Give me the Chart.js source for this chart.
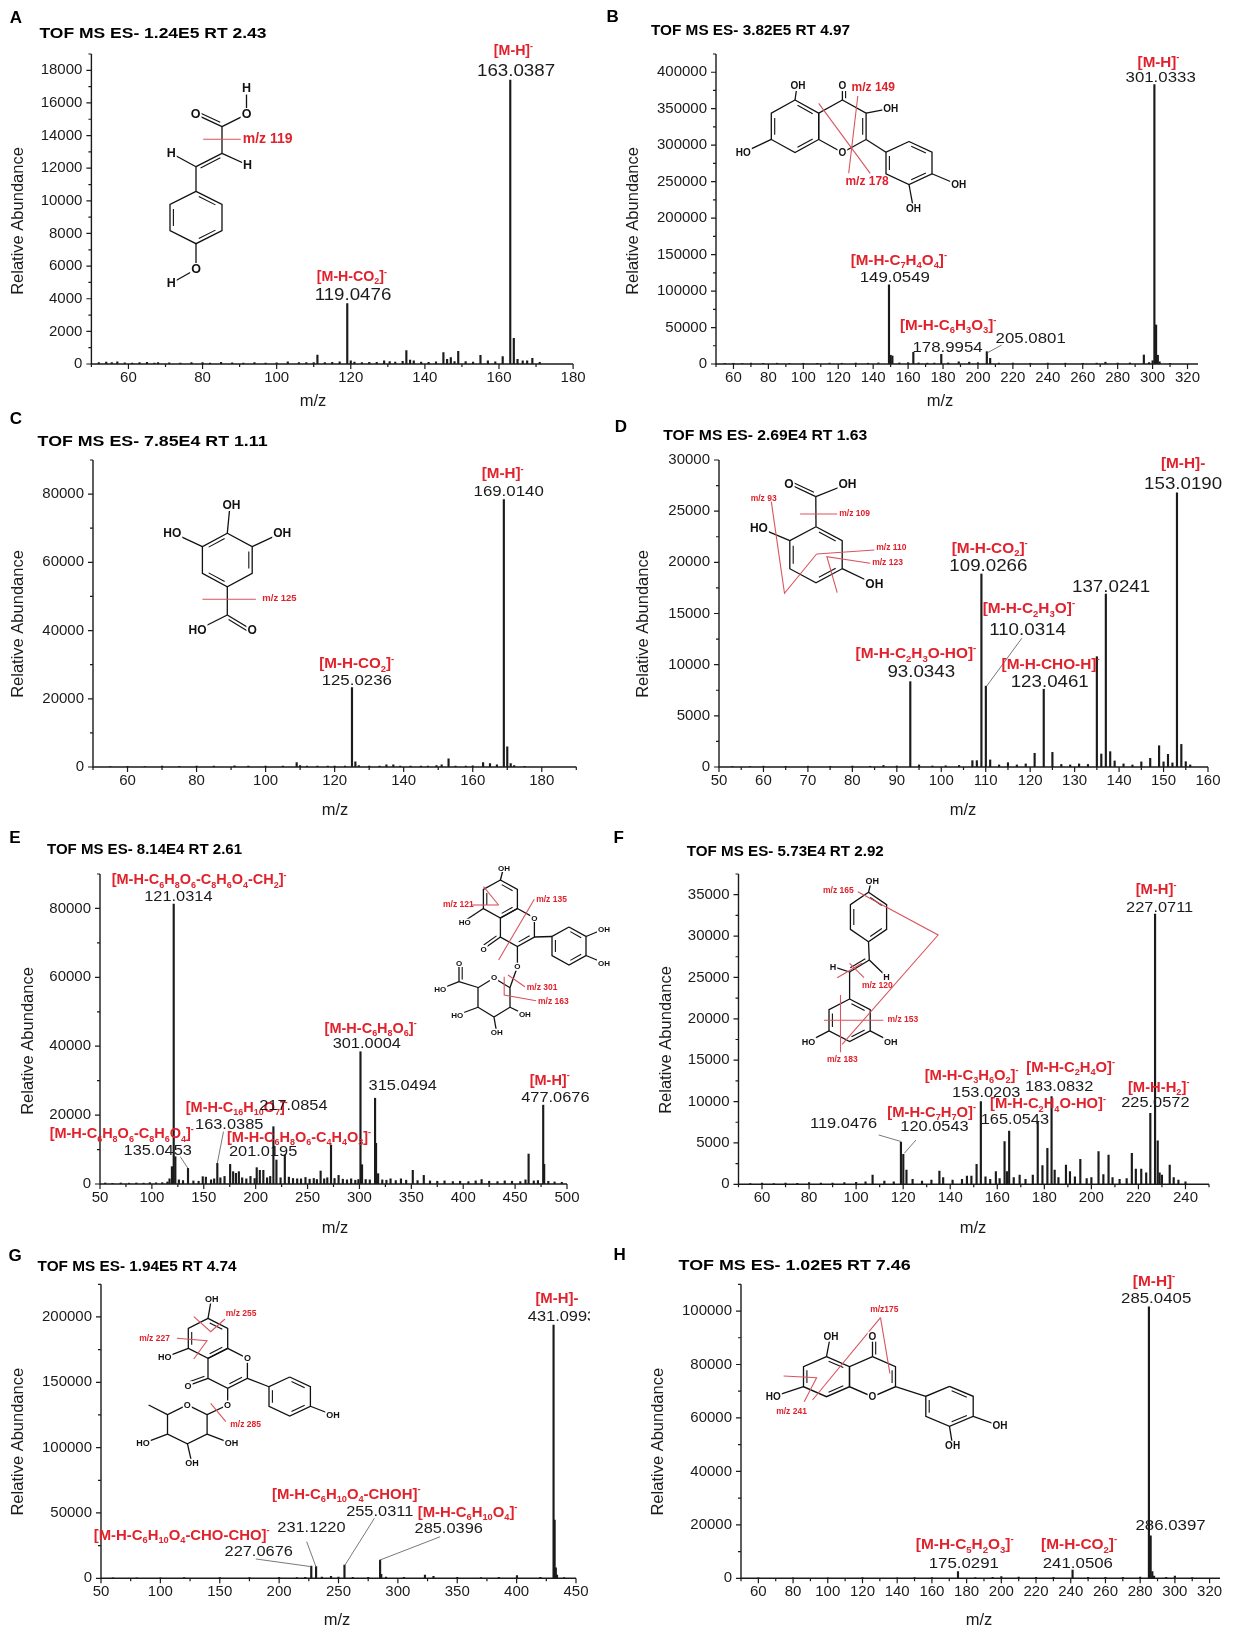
<!DOCTYPE html>
<html lang="en">
<head>
<meta charset="UTF-8">
<title>TOF MS ES- spectra</title>
<script src="https://cdn.jsdelivr.net/npm/chart.js"></script>
<style>
  body { margin: 0; background: #fff; }
  #page { position: relative; width: 1236px; height: 1637px; overflow: hidden; background: #fff; }
</style>
</head>
<body>
<div id="page"></div>
<script>
// ---- spectrum data: m/z and abundance ----
const aMz  = [52, 54, 55.5, 57, 59, 61, 63, 65, 67, 68,
              71, 74, 77, 80, 82, 85, 88, 91, 94, 97,
              100, 103, 106, 108, 110, 111, 113, 115, 117, 119.05,
              120, 121, 123, 125, 127, 129, 130.5, 132, 134, 135,
              136, 137, 139, 141, 143, 145, 146, 147, 148, 149,
              151, 153, 155, 157, 159, 161, 163.04, 164, 165, 166.4,
              167.6, 169, 171];
const aInt = [80, 120, 90, 130, 70, 60, 80, 110, 60, 90,
              70, 60, 80, 90, 60, 100, 70, 60, 80, 60,
              70, 140, 80, 90, 80, 550, 90, 110, 130, 3700,
              200, 120, 90, 110, 100, 200, 150, 120, 160, 820,
              240, 200, 120, 110, 140, 700, 280, 400, 150, 780,
              150, 120, 530, 200, 140, 450, 17400, 1580, 290, 200,
              200, 350, 100];

const bMz  = [55, 60, 65, 70, 77, 85, 92, 100, 108, 115,
              122, 130, 137, 143, 149.05, 150, 151, 155, 160, 163,
              166, 171, 175, 179, 183, 189, 195, 200, 205.08, 207,
              212, 220, 230, 240, 250, 260, 268, 273, 280, 287,
              295, 298, 300, 301.03, 302, 303, 304, 310];
const bInt = [800, 1000, 700, 1200, 900, 1100, 800, 1000, 900, 1200,
              1000, 1300, 1100, 1500, 108500, 12000, 11000, 1500, 1800, 16000,
              1500, 1200, 1300, 13300, 1500, 3000, 2500, 1800, 16900, 7800,
              1200, 1300, 1000, 1200, 1100, 1000, 1200, 2500, 1300, 1500,
              12300, 2000, 4500, 383000, 53500, 12000, 3000, 900];

const cMz  = [55, 60, 65, 70, 75, 80, 85, 91, 95, 100,
              105, 109, 110, 112, 115, 118, 120, 123, 125.02, 126,
              127, 130, 133, 135, 137, 139, 142, 145, 147, 149.5,
              151, 153, 155, 158, 160, 163, 165, 167, 169.01, 170,
              171, 172, 175];
const cInt = [150, 200, 150, 250, 200, 300, 250, 350, 250, 300,
              250, 1260, 400, 300, 250, 300, 250, 300, 23300, 1550,
              400, 300, 250, 600, 600, 300, 250, 300, 300, 400,
              600, 2430, 300, 300, 350, 1260, 1000, 600, 78400, 5900,
              1000, 400, 200];

const dMz  = [53, 57, 60, 65, 70, 75, 80, 84, 87, 90,
              93.03, 95, 98, 101, 104, 107, 108, 109.03, 110.03, 111,
              113, 115, 117, 119, 121, 123.05, 125, 127, 129, 131,
              133, 135, 136, 137.02, 138, 139, 141, 143, 145, 147,
              149, 150, 151, 152, 153.02, 154, 155, 156];
const dInt = [60, 50, 80, 60, 80, 60, 90, 70, 150, 100,
              8340, 200, 100, 120, 150, 620, 620, 18860, 7900, 690,
              200, 420, 200, 300, 1340, 7600, 1430, 250, 200, 300,
              250, 10780, 1270, 16900, 1500, 590, 300, 200, 500, 850,
              2080, 500, 1240, 400, 26800, 2210, 520, 200];

const eMz  = [55, 62, 70, 78, 85, 92, 98, 104, 110, 115,
              117, 119.3, 121.03, 122.6, 126, 130, 134.8, 140, 145, 149,
              152, 157, 160, 163.04, 166, 170, 175.4, 178.3, 181, 183.8,
              187, 191, 195, 199, 201.02, 204, 207.4, 211, 214, 217.09,
              220, 224, 228.1, 232, 236, 240, 243.7, 248, 252, 256,
              259, 262.6, 266, 269, 272.6, 276, 279.9, 284, 288, 292,
              296, 299, 301.0, 302.5, 306, 310, 315.05, 316, 318, 322,
              326, 330, 335, 340, 345, 351.4, 356, 362, 368, 375,
              382, 390, 397, 405, 412, 417.7, 425, 433, 440, 447,
              455, 460, 463, 468, 472, 477.07, 478, 482, 488, 495];
const eInt = [300, 200, 300, 250, 300, 250, 400, 350, 400, 600,
              1500, 5030, 81300, 7930, 1200, 1000, 4550, 900, 800, 2130,
              2000, 1200, 1500, 6000, 1800, 2200, 5700, 3580, 3100, 3580,
              1800, 1500, 2200, 1600, 4740, 3970, 3970, 1800, 2200, 16640,
              6970, 1800, 8420, 2000, 1600, 1500, 1500, 1900, 1400, 1600,
              1300, 3770, 1500, 1800, 11320, 1600, 2500, 1400, 1200, 1500,
              1100, 1300, 38400, 5600, 1300, 1200, 24900, 11800, 3000, 1200,
              1100, 1500, 1000, 1500, 1100, 3970, 1000, 2500, 900, 800,
              900, 700, 800, 700, 900, 1300, 800, 700, 900, 800,
              700, 1200, 8700, 900, 1000, 22900, 5700, 800, 600, 500];

const fMz  = [55, 60, 65, 70, 75, 80, 85, 90, 95, 100,
              104, 107, 112, 116, 119.05, 120.05, 121.4, 124, 128, 132,
              135.4, 137, 141, 145, 147.1, 149, 151.2, 153.02, 155, 157,
              159.4, 161, 163.1, 164.1, 165.05, 167, 169.5, 172, 175.1, 177.2,
              179.2, 181.3, 183.08, 184.4, 186, 189.2, 190.9, 193, 195.3, 198,
              200, 203.04, 205.1, 207.3, 209, 212, 215, 217.2, 218.9, 221.2,
              223.3, 225.06, 227.07, 228.2, 229, 230, 233.3, 235, 237, 240];
const fInt = [100, 150, 100, 150, 120, 200, 150, 150, 200, 250,
              300, 1120, 400, 300, 5080, 3630, 1730, 600, 400, 500,
              1610, 800, 500, 600, 1000, 1000, 2420, 10000, 900, 600,
              1530, 700, 5150, 1530, 6440, 800, 1120, 600, 1120, 7570,
              2250, 4350, 10600, 1730, 800, 2330, 1530, 900, 3020, 700,
              800, 3940, 1160, 3540, 800, 600, 700, 3750, 1850, 1850,
              1400, 8590, 32660, 5240, 1400, 1120, 2330, 800, 500, 300];

const gMz  = [60, 80, 100, 120, 150, 175, 200, 215, 222, 227.07,
              231.12, 236, 243.7, 250, 255.03, 262, 275, 285.04, 286, 290,
              305, 322.8, 330, 350, 370, 385, 400.3, 420, 431.1, 432,
              433, 434, 440];
const gInt = [300, 400, 300, 500, 500, 600, 800, 600, 700, 9400,
              8900, 900, 1500, 1000, 10200, 800, 700, 14000, 3000, 1000,
              700, 2500, 1500, 800, 600, 700, 2000, 800, 193700, 44600,
              8000, 2500, 500];

const hMz  = [60, 80, 100, 120, 140, 150, 160, 175.03, 185, 195,
              200, 210, 220, 230, 241.05, 250, 260, 270, 280, 285.04,
              286.04, 287, 288, 295, 300, 310];
const hInt = [150, 200, 150, 250, 200, 300, 250, 2500, 300, 350,
              600, 500, 400, 400, 3100, 400, 400, 350, 500, 101600,
              15900, 2500, 800, 400, 800, 300];

// ---- tick labels ----
const aXTicks = [60, 80, 100, 120, 140, 160, 180];
const aYTicks = [0, 2000, 4000, 6000, 8000, 10000, 12000, 14000, 16000, 18000];
const bXTicks = [60, 80, 100, 120, 140, 160, 180, 200, 220, 240, 260, 280, 300, 320];
const bYTicks = [0, 50000, 100000, 150000, 200000, 250000, 300000, 350000, 400000];
const cXTicks = [60, 80, 100, 120, 140, 160, 180];
const cYTicks = [0, 20000, 40000, 60000, 80000];
const dXTicks = [50, 60, 70, 80, 90, 100, 110, 120, 130, 140, 150, 160];
const dYTicks = [0, 5000, 10000, 15000, 20000, 25000, 30000];
const eXTicks = [50, 100, 150, 200, 250, 300, 350, 400, 450, 500];
const eYTicks = [0, 20000, 40000, 60000, 80000];
const fXTicks = [60, 80, 100, 120, 140, 160, 180, 200, 220, 240];
const fYTicks = [0, 5000, 10000, 15000, 20000, 25000, 30000, 35000];
const gXTicks = [50, 100, 150, 200, 250, 300, 350, 400, 450];
const gYTicks = [0, 50000, 100000, 150000, 200000];
const hXTicks = [60, 80, 100, 120, 140, 160, 180, 200, 220, 240, 260, 280, 300, 320];
const hYTicks = [0, 20000, 40000, 60000, 80000, 100000];

// ---- peak annotations (red ion formula + measured m/z), anchored in data units ----
const aNotes = [
  { red: '[M-H]^-', rx: 163.9, ry: 18940, num: '163.0387', nx: 164.6, ny: 17650 },
  { red: '[M-H-CO_2]^-', rx: 120.3, ry: 5090, num: '119.0476', nx: 120.6, ny: 3920 }
];
const bNotes = [
  { red: '[M-H]^-', rx: 303.4, ry: 407600, num: '301.0333', nx: 304.6, ny: 386000 },
  { red: '[M-H-C_7H_4O_4]^-', rx: 154.7, ry: 135700, num: '149.0549', nx: 152.4, ny: 112800 },
  { red: '[M-H-C_6H_3O_3]^-', rx: 183, ry: 46600, num: '178.9954', nx: 182.6, ny: 16900 },
  { num: '205.0801', nx: 230.2, ny: 28400, lead: [205.5, 15500, 213.5, 26000] }
];
const cNotes = [
  { red: '[M-H]^-', rx: 168.7, ry: 84600, num: '169.0140', nx: 170.4, ny: 79500 },
  { red: '[M-H-CO_2]^-', rx: 126.4, ry: 28900, num: '125.0236', nx: 126.4, ny: 24000 }
];
const dNotes = [
  { red: '[M-H]-', rx: 154.4, ry: 29190, num: '153.0190', nx: 154.4, ny: 27140 },
  { red: '[M-H-CO_2]^-', rx: 110.9, ry: 20940, num: '109.0266', nx: 110.6, ny: 19180 },
  { num: '137.0241', nx: 138.2, ny: 17130 },
  { red: '[M-H-C_2H_3O]^-', rx: 119.7, ry: 15020, num: '110.0314', nx: 119.4, ny: 12900, lead: [110.2, 7900, 118.1, 12570] },
  { red: '[M-H-C_2H_3O-HO]^-', rx: 94.3, ry: 10620, num: '93.0343', nx: 95.5, ny: 8760 },
  { red: '[M-H-CHO-H]^-', rx: 124.6, ry: 9550, num: '123.0461', nx: 124.4, ny: 7850 }
];
const eNotes = [
  { red: '[M-H-C_6H_8O_6-C_8H_6O_4-CH_2]^-', rx: 145.5, ry: 87000, num: '121.0314', nx: 125.5, ny: 82150 },
  { red: '[M-H-C_6H_8O_6]^-', rx: 310.8, ry: 43900, num: '301.0004', nx: 307.1, ny: 39400 },
  { num: '315.0494', nx: 341.7, ny: 27300 },
  { red: '[M-H]^-', rx: 483.3, ry: 28740, num: '477.0676', nx: 488.8, ny: 23700 },
  { red: '[M-H-C_16H_10O_7]^-', rx: 181.8, ry: 21000, num: '163.0385', nx: 174.5, ny: 15870, lead: [163, 6000, 169, 15200] },
  { num: '217.0854', nx: 236.3, ny: 21480 },
  { red: '[M-H-C_6H_8O_6-C_8H_6O_4]^-', rx: 70.9, ry: 13260, num: '135.0453', nx: 105.6, ny: 8420, lead: [134.7, 4560, 127.4, 7930] },
  { red: '[M-H-C_6H_8O_6-C_4H_4O_3]^-', rx: 241.8, ry: 12290, num: '201.0195', nx: 207.2, ny: 8220 }
];
const fNotes = [
  { red: '[M-H]^-', rx: 227.5, ry: 35050, num: '227.0711', nx: 229, ny: 32940 },
  { red: '[M-H-H_2]^-', rx: 228.6, ry: 11190, num: '225.0572', nx: 227.2, ny: 9380 },
  { red: '[M-H-C_2H_4O]^-', rx: 191.2, ry: 13610, num: '183.0832', nx: 186.3, ny: 11280 },
  { red: '[M-H-C_3H_6O_2]^-', rx: 149.1, ry: 12600, num: '153.0203', nx: 155.3, ny: 10590 },
  { red: '[M-H-C_2H_4O-HO]^-', rx: 181.6, ry: 9180, num: '165.0543', nx: 167.5, ny: 7250 },
  { red: '[M-H-C_7H_7O]^-', rx: 132.1, ry: 8170, num: '120.0543', nx: 133.3, ny: 6440, lead: [120.5, 3750, 125.4, 5350] },
  { num: '119.0476', nx: 94.7, ny: 6770, lead: [109.6, 5960, 119.3, 5150] }
];
const gNotes = [
  { red: '[M-H]-', rx: 433.9, ry: 210460, num: '431.0993', nx: 438.2, ny: 196900 },
  { red: '[M-H-C_6H_10O_4-CHOH]^-', rx: 256.5, ry: 60700, num: '255.0311', nx: 284.7, ny: 47900, lead: [255.5, 10200, 280.2, 45900] },
  { red: '[M-H-C_6H_10O_4]^-', rx: 358.7, ry: 47100, num: '285.0396', nx: 342.8, ny: 34400, lead: [285, 14000, 335.6, 31800] },
  { num: '231.1220', nx: 227.2, ny: 35200, lead: [231, 8900, 223.2, 28000] },
  { red: '[M-H-C_6H_10O_4-CHO-CHO]^-', rx: 117.9, ry: 29300, num: '227.0676', nx: 182.8, ny: 17300, lead: [180.4, 14800, 227, 8900] }
];
const hNotes = [
  { red: '[M-H]^-', rx: 288, ry: 109500, num: '285.0405', nx: 289.2, ny: 102900 },
  { num: '286.0397', nx: 297.5, ny: 18070 },
  { red: '[M-H-C_5H_2O_3]^-', rx: 178.9, ry: 10850, num: '175.0291', nx: 178.4, ny: 3970 },
  { red: '[M-H-CO_2]^-', rx: 244.8, ry: 10850, num: '241.0506', nx: 244.1, ny: 3970 }
];

// ---- panel layout (page pixels) ----
const panels = [
  { id: 'A', title: 'TOF MS ES- 1.24E5 RT 2.43', mz: aMz, ab: aInt, xTicks: aXTicks, yTicks: aYTicks, notes: aNotes,
    cell: [0, 0, 590, 412], box: [91.4, 54, 573.1, 364], xr: [50, 180], yMax: 19000, xMinor: 10, yMinor: 1000,
    letter: [16, 18], titlePos: [39.5, 34], titleW: 227, xTitle: [313, 401], yTitle: [18.8, 221], numSize: 16, redSize: 14.2, atomSize: 12.5 },
  { id: 'B', title: 'TOF MS ES- 3.82E5 RT 4.97', mz: bMz, ab: bInt, xTicks: bXTicks, yTicks: bYTicks, notes: bNotes,
    cell: [590, 0, 646, 412], box: [716, 54, 1198, 364], xr: [50, 326], yMax: 425000, xMinor: 10, yMinor: 25000,
    letter: [612.7, 17], titlePos: [651, 31], titleW: 199, xTitle: [940, 401], yTitle: [633.3, 221], numSize: 14.4, redSize: 15.2, atomSize: 10 },
  { id: 'C', title: 'TOF MS ES- 7.85E4 RT 1.11', mz: cMz, ab: cInt, xTicks: cXTicks, yTicks: cYTicks, notes: cNotes,
    cell: [0, 395, 590, 425], box: [93, 460, 576.3, 767], xr: [50, 190], yMax: 90000, xMinor: 10, yMinor: 10000,
    letter: [15.8, 419], titlePos: [37.6, 441.7], titleW: 230, xTitle: [335, 810], yTitle: [18.8, 624], numSize: 14.4, redSize: 15.2, atomSize: 12 },
  { id: 'D', title: 'TOF MS ES- 2.69E4 RT 1.63', mz: dMz, ab: dInt, xTicks: dXTicks, yTicks: dYTicks, notes: dNotes,
    cell: [590, 395, 646, 425], box: [719, 460, 1208, 767], xr: [50, 160], yMax: 30000, xMinor: 5, yMinor: 2500,
    letter: [621, 427], titlePos: [663.3, 436], titleW: 204, xTitle: [963, 810], yTitle: [643.6, 624], numSize: 16, redSize: 15.4, atomSize: 12 },
  { id: 'E', title: 'TOF MS ES- 8.14E4 RT 2.61', mz: eMz, ab: eInt, xTicks: eXTicks, yTicks: eYTicks, notes: eNotes,
    cell: [0, 795, 620, 445], box: [100, 874, 567, 1184], xr: [50, 500], yMax: 90000, xMinor: 25, yMinor: 10000,
    letter: [15, 838.3], titlePos: [47, 850], titleW: 195, xTitle: [335, 1228], yTitle: [28.2, 1041], numSize: 14, redSize: 14.5, atomSize: 8 },
  { id: 'F', title: 'TOF MS ES- 5.73E4 RT 2.92', mz: fMz, ab: fInt, xTicks: fXTicks, yTicks: fYTicks, notes: fNotes,
    cell: [590, 795, 646, 445], box: [738.5, 874, 1209, 1184.3], xr: [50, 250], yMax: 37500, xMinor: 10, yMinor: 2500,
    letter: [618.8, 838.3], titlePos: [686.8, 852.3], titleW: 197, xTitle: [973, 1228], yTitle: [666.2, 1040], numSize: 14, redSize: 14.8, atomSize: 9 },
  { id: 'G', title: 'TOF MS ES- 1.94E5 RT 4.74', mz: gMz, ab: gInt, xTicks: gXTicks, yTicks: gYTicks, notes: gNotes,
    cell: [0, 1190, 590, 447], box: [101, 1284.3, 576, 1578.3], xr: [50, 450], yMax: 225000, xMinor: 25, yMinor: 25000,
    letter: [15, 1256.7], titlePos: [37.6, 1266.7], titleW: 199, xTitle: [337, 1620], yTitle: [18.8, 1441.7], numSize: 14, redSize: 14.9, atomSize: 9 },
  { id: 'H', title: 'TOF MS ES- 1.02E5 RT 7.46', mz: hMz, ab: hInt, xTicks: hXTicks, yTicks: hYTicks, notes: hNotes,
    cell: [590, 1190, 646, 447], box: [741, 1284.3, 1220, 1578.3], xr: [50, 326], yMax: 110000, xMinor: 10, yMinor: 10000,
    letter: [619.7, 1255], titlePos: [678.6, 1266], titleW: 232, xTitle: [979, 1620], yTitle: [658, 1441.7], numSize: 14.4, redSize: 15.4, atomSize: 10 }
];

// ---- chemical structure sketches (page pixels), with fragmentation cuts ----
const structures = {
  A(m) {
    m.ring(196, 217.5, 26, 26.2, [0, 2, 4]);
    m.line(196, 191.3, 196, 166.7);
    m.line(196, 166.7, 171.2, 153.3);
    m.dbl(196, 166.7, 222, 153.3, 1);
    m.line(222, 153.3, 247.6, 165);
    m.line(222, 153.3, 222, 126.7);
    m.dbl(222, 126.7, 195.7, 114.3, 1);
    m.line(222, 126.7, 246.5, 114.3);
    m.line(246.5, 114.3, 246.5, 88.3);
    m.line(196, 243.7, 196, 269.3);
    m.line(196, 269.3, 171.2, 283.3);
    m.atom('H', 171.2, 153.3); m.atom('H', 247.6, 165); m.atom('O', 195.7, 114.3);
    m.atom('O', 246.5, 114.3); m.atom('H', 246.5, 88.3); m.atom('O', 196, 269.3); m.atom('H', 171.2, 283.3);
    m.cut([[203.2, 139.3], [240.8, 139.3]]);
    m.cutText('m/z 119', 242.7, 139.3, 14);
  },
  B(m) {
    m.ring(795, 126.3, 23.7, 26.3, [0, 2, 4]);
    m.ring(842.4, 126.3, 23.7, 26.3, [1]);
    m.ring(909, 163, 23, 21.5, [0, 2, 4]);
    m.line(795, 100, 797, 86);
    m.line(771.3, 139.45, 743.3, 152.7);
    m.dbl(842.4, 100, 842.4, 86, 1);
    m.line(866.1, 113.15, 890.8, 108.3);
    m.line(866.1, 139.45, 886, 152.25);
    m.line(932, 173.75, 958.7, 185);
    m.line(909, 184.5, 913.4, 208.3);
    m.atom('OH', 798, 86); m.atom('HO', 743.3, 152.7); m.atom('O', 842.4, 86); m.atom('OH', 890.8, 108.3);
    m.atom('O', 842.4, 152.6); m.atom('OH', 958.7, 185); m.atom('OH', 913.4, 208.3);
    m.cut([[857.8, 96], [848.7, 173.3]]);
    m.cut([[818.7, 103.3], [870.2, 173.3]]);
    m.cutText('m/z 149', 851.6, 87.3, 12);
    m.cutText('m/z 178', 845.4, 181.7, 12);
  },
  C(m) {
    m.ring(227.3, 560, 24.9, 26.7, [1, 3, 5]);
    m.line(227.3, 533.3, 230, 505);
    m.line(202.4, 546.65, 172.3, 532.7);
    m.line(252.2, 546.65, 282.2, 532.7);
    m.line(227.3, 586.7, 227.3, 615);
    m.line(227.3, 615, 197.5, 630);
    m.dbl(227.3, 615, 252.1, 630, 1);
    m.atom('OH', 231.4, 505); m.atom('HO', 172.3, 532.7); m.atom('OH', 282.2, 532.7);
    m.atom('HO', 197.5, 630); m.atom('O', 252.1, 630);
    m.cut([[202.4, 599.3], [255.9, 599.3]]);
    m.cutText('m/z 125', 262.3, 598.7, 9.5);
  },
  D(m) {
    m.ring(816, 554.7, 26.2, 28, [0, 2, 4]);
    m.line(816, 526.7, 815.8, 496.7);
    m.dbl(815.8, 496.7, 789, 484, 1);
    m.line(815.8, 496.7, 847.5, 484);
    m.line(789.8, 540.7, 758.9, 527.7);
    m.line(842.2, 568.7, 874.3, 584);
    m.atom('O', 789, 484); m.atom('OH', 847.5, 484); m.atom('HO', 758.9, 527.7); m.atom('OH', 874.3, 584);
    m.cut([[771.3, 501.7], [784.5, 593.3], [816.6, 554]]);
    m.cut([[800.1, 514], [837.2, 514]]);
    m.cut([[874.3, 550], [816.6, 554]]);
    m.cut([[870.2, 563.3], [826.9, 556.7], [837.2, 592.7]]);
    m.cutText('m/z 93', 750.7, 498.7, 8.5);
    m.cutText('m/z 109', 839.3, 514, 8.5);
    m.cutText('m/z 110', 876.3, 547.7, 8.5);
    m.cutText('m/z 123', 872.2, 562.3, 8.5);
  },
  E(m) {
    m.ring(500.4, 899, 17, 19, [0, 2, 4]);
    m.ring(517.4, 927.5, 17, 19, [2]);
    m.ring(569, 946, 17, 19, [0, 2, 4]);
    m.ring(494, 997.5, 16, 19.5, []);
    m.dbl(500.4, 937, 483.5, 949, 1);
    m.line(500.4, 880, 503, 870);
    m.line(483.4, 908.5, 466, 920);
    m.line(517.4, 946.5, 517.4, 966.7);
    m.line(534.4, 937, 552, 936.5);
    m.line(586, 936.5, 604, 929);
    m.line(586, 955.5, 604, 963);
    m.line(510, 987.5, 517.4, 966.7);
    m.line(478, 987.5, 459, 981.7);
    m.dbl(459, 981.7, 459, 963, 1);
    m.line(459, 981.7, 440.2, 989);
    m.line(510, 1007.25, 524.9, 1014.3);
    m.line(478, 1007.25, 457.2, 1015);
    m.line(494, 1017.25, 496.7, 1032.7);
    m.atom('OH', 504, 868); m.atom('HO', 464.7, 922.7); m.atom('O', 534.4, 918); m.atom('O', 483.5, 949);
    m.atom('O', 517.4, 966.7); m.atom('OH', 604, 929); m.atom('OH', 604, 963); m.atom('O', 494, 977.75);
    m.atom('O', 459, 963); m.atom('HO', 440.2, 989); m.atom('OH', 524.9, 1014.3); m.atom('HO', 457.2, 1015);
    m.atom('OH', 496.7, 1032.7);
    m.cut([[472.2, 905], [498.6, 905]]);
    m.cut([[483.5, 886.7], [498.6, 905]]);
    m.cut([[534.3, 899.3], [498.6, 960]]);
    m.cut([[524.9, 986.7], [508, 975]]);
    m.cut([[536.2, 1000.7], [504.2, 995], [504.2, 976.7]]);
    m.cutText('m/z 121', 443, 905, 8.5);
    m.cutText('m/z 135', 536.2, 899.3, 8.5);
    m.cutText('m/z 301', 526.8, 987.3, 8.5);
    m.cutText('m/z 163', 538, 1001.7, 8.5);
  },
  F(m) {
    m.ring(868.5, 917, 18.1, 24.7, [0, 2, 4]);
    m.ring(849.6, 1020.3, 20.6, 21.3, [0, 2, 4]);
    m.line(868.5, 892.3, 871, 882);
    m.line(868.5, 941.7, 869.3, 960);
    m.line(869.3, 960, 886.6, 976.7);
    m.dbl(869.3, 960, 849.6, 972, 1);
    m.line(849.6, 972, 833, 966.7);
    m.line(849.6, 972, 849.6, 999);
    m.line(829, 1030.95, 808.4, 1041.7);
    m.line(870.2, 1030.95, 890.8, 1041.7);
    m.atom('OH', 872.2, 881); m.atom('H', 886.6, 976.7); m.atom('H', 833, 966.7);
    m.atom('HO', 808.4, 1041.7); m.atom('OH', 890.8, 1041.7);
    m.cut([[857.8, 891.7], [938.1, 935], [842.1, 1044.3]]);
    m.cut([[837.2, 977.7], [861.9, 963.3]]);
    m.cut([[849.6, 963.3], [864, 977.7]]);
    m.cut([[824, 1020.3], [883.3, 1020.3]]);
    m.cut([[840.5, 995], [840.5, 1052.3]]);
    m.cutText('m/z 165', 823, 891, 8.5);
    m.cutText('m/z 120', 861.9, 985.7, 8.5);
    m.cutText('m/z 153', 887.5, 1020, 8.5);
    m.cutText('m/z 183', 826.9, 1060, 8.5);
  },
  G(m) {
    m.ring(208, 1338.3, 19.7, 20, [0, 2, 4]);
    m.ring(227.7, 1368.3, 19.7, 20, [2]);
    m.ring(289.7, 1396.5, 20.7, 19.5, [0, 2, 4]);
    m.ring(187.3, 1424.3, 19.8, 19.5, []);
    m.dbl(208, 1378.3, 188.1, 1385.7, 1);
    m.line(208, 1318.3, 211, 1301);
    m.line(188.3, 1348.3, 164.8, 1357.3);
    m.line(227.7, 1388.3, 227.6, 1405);
    m.line(247.4, 1378.3, 269, 1386.75);
    m.line(310.4, 1406.25, 333, 1415);
    m.line(207.1, 1414.55, 227.6, 1405);
    m.line(167.5, 1414.55, 148.6, 1405);
    m.line(167.5, 1434.05, 143, 1443.3);
    m.line(207.1, 1434.05, 231.4, 1443.3);
    m.line(187.3, 1443.05, 191.9, 1463.3);
    m.atom('OH', 211.8, 1299); m.atom('HO', 164.8, 1357.3); m.atom('O', 247.4, 1358.3); m.atom('O', 188.1, 1385.7);
    m.atom('O', 227.6, 1405); m.atom('O', 187.3, 1404.55); m.atom('OH', 333, 1415); m.atom('HO', 143, 1443.3);
    m.atom('OH', 231.4, 1443.3); m.atom('OH', 191.9, 1463.3);
    m.cut([[193.8, 1316.7], [210.7, 1331.7], [225, 1319]]);
    m.cut([[176.9, 1338.3], [207, 1340.7], [193.8, 1359]]);
    m.cut([[210.7, 1403.3], [225.8, 1421.7]]);
    m.cutText('m/z 255', 225.8, 1313.3, 8.5);
    m.cutText('m/z 227', 139.2, 1338.3, 8.5);
    m.cutText('m/z 285', 230.3, 1425, 8.5);
  },
  H(m) {
    m.ring(826.5, 1376.7, 23, 20, [0, 2, 4]);
    m.ring(872.5, 1376.7, 23, 20, [1]);
    m.ring(949.5, 1406.3, 23.7, 20, [0, 2, 4]);
    m.dbl(872.5, 1356.7, 872.5, 1338, 1);
    m.line(826.5, 1356.7, 830, 1338);
    m.line(803.5, 1386.7, 773.3, 1396.7);
    m.line(895.5, 1386.7, 925.8, 1396.3);
    m.line(973.2, 1416.3, 1000, 1426);
    m.line(949.5, 1426.3, 952.6, 1445.7);
    m.atom('OH', 831, 1336.7); m.atom('O', 872.5, 1336.7); m.atom('HO', 773.3, 1396.7); m.atom('O', 872.5, 1396.7);
    m.atom('OH', 1000, 1426); m.atom('OH', 952.6, 1445.7);
    m.cut([[880.5, 1317.7], [812.5, 1400]]);
    m.cut([[880.5, 1317.7], [889.9, 1373.3]]);
    m.cut([[783.6, 1376], [816.6, 1377.7], [804.2, 1401.7]]);
    m.cutText('m/z175', 870.2, 1309.3, 8.5);
    m.cutText('m/z 241', 776.2, 1411.7, 8.5);
  }
};

const FONT = '"Liberation Sans", Arial, Helvetica, sans-serif';
const RED = '#e1212b';
const CUT = '#d9545e';
const INK = '#1b1b1b';

// split "[M-H-C_6H_8O_6]^-" into normal / subscript / superscript runs
function richRuns(s) {
  const out = [];
  const re = /_(\d+)|\^(.)|([^_^]+)/g;
  let m;
  while ((m = re.exec(s))) {
    if (m[1]) out.push({ t: m[1], k: 1 });
    else if (m[2]) out.push({ t: m[2], k: 2 });
    else out.push({ t: m[3], k: 0 });
  }
  return out;
}

function drawRich(ctx, s, cx, by, size) {
  const runs = richRuns(s);
  const font = k => `bold ${k ? size * 0.62 : size}px ${FONT}`;
  let w = 0;
  runs.forEach(r => { ctx.font = font(r.k); r.w = ctx.measureText(r.t).width; w += r.w; });
  let x = cx - w / 2;
  ctx.fillStyle = RED;
  ctx.textAlign = 'left';
  ctx.textBaseline = 'alphabetic';
  runs.forEach(r => {
    ctx.font = font(r.k);
    const dy = r.k === 1 ? size * 0.22 : r.k === 2 ? -size * 0.45 : 0;
    ctx.fillText(r.t, x, by + dy);
    x += r.w;
  });
}

// horizontally stretched text, the figure is a bit wider than tall
function drawWide(ctx, s, x, y, font, sx, align, base) {
  ctx.save();
  ctx.translate(x, y);
  ctx.scale(sx, 1);
  ctx.font = font;
  ctx.textAlign = align;
  ctx.textBaseline = base;
  ctx.fillText(s, 0, 0);
  ctx.restore();
}

// small drawing pen for the structure sketches
function makePen(ctx, ox, oy, atomSize) {
  const X = x => x - ox, Y = y => y - oy;
  const atoms = [], texts = [];
  const seg = (pts, color, w) => {
    ctx.strokeStyle = color;
    ctx.lineWidth = w;
    ctx.beginPath();
    pts.forEach((p, i) => i ? ctx.lineTo(X(p[0]), Y(p[1])) : ctx.moveTo(X(p[0]), Y(p[1])));
    ctx.stroke();
  };
  return {
    line(x1, y1, x2, y2) { seg([[x1, y1], [x2, y2]], '#111', 1.3); },
    dbl(x1, y1, x2, y2, side) {
      seg([[x1, y1], [x2, y2]], '#111', 1.3);
      const dx = x2 - x1, dy = y2 - y1, L = Math.hypot(dx, dy);
      const nx = -dy / L * 3.2 * side, ny = dx / L * 3.2 * side;
      seg([[x1 + dx * 0.12 + nx, y1 + dy * 0.12 + ny], [x2 - dx * 0.12 + nx, y2 - dy * 0.12 + ny]], '#111', 1.1);
    },
    ring(cx, cy, rx, ry, dbls) {
      const v = [[cx, cy - ry], [cx + rx, cy - ry / 2], [cx + rx, cy + ry / 2],
                 [cx, cy + ry], [cx - rx, cy + ry / 2], [cx - rx, cy - ry / 2]];
      seg([...v, v[0]], '#111', 1.3);
      dbls.forEach(i => {
        const p = v[i], q = v[(i + 1) % 6];
        const mx = (p[0] + q[0]) / 2, my = (p[1] + q[1]) / 2;
        const L = Math.hypot(cx - mx, cy - my);
        const sx = (cx - mx) / L * 3.4, sy = (cy - my) / L * 3.4;
        seg([[p[0] + (q[0] - p[0]) * 0.18 + sx, p[1] + (q[1] - p[1]) * 0.18 + sy],
             [p[0] + (q[0] - p[0]) * 0.82 + sx, p[1] + (q[1] - p[1]) * 0.82 + sy]], '#111', 1.1);
      });
    },
    atom(t, x, y) { atoms.push([t, x, y]); },
    cut(pts) { seg(pts, CUT, 1.1); },
    cutText(t, x, y, size) { texts.push([t, x, y, size]); },
    flush() {
      ctx.font = `bold ${atomSize}px ${FONT}`;
      ctx.textAlign = 'center';
      ctx.textBaseline = 'middle';
      atoms.forEach(([t, x, y]) => {
        const w = ctx.measureText(t).width;
        ctx.fillStyle = '#fff';
        ctx.fillRect(X(x) - w / 2 - 1, Y(y) - atomSize * 0.5, w + 2, atomSize);
        ctx.fillStyle = '#111';
        ctx.fillText(t, X(x), Y(y) + 0.5);
      });
      ctx.textAlign = 'left';
      ctx.fillStyle = RED;
      texts.forEach(([t, x, y, size]) => {
        ctx.font = `bold ${size}px ${FONT}`;
        ctx.fillText(t, X(x), Y(y));
      });
    }
  };
}

function makeDecor(p) {
  return {
    id: 'decor' + p.id,
    afterDraw(chart) {
      const ctx = chart.ctx, xs = chart.scales.x, ys = chart.scales.y, ca = chart.chartArea;
      const ox = p.cell[0], oy = p.cell[1];
      ctx.save();

      // axes
      ctx.strokeStyle = INK;
      ctx.lineWidth = 1.4;
      ctx.beginPath();
      ctx.moveTo(ca.left, ca.top);
      ctx.lineTo(ca.left, ca.bottom);
      ctx.lineTo(ca.right, ca.bottom);
      ctx.stroke();

      // major and minor ticks, outward
      ctx.lineWidth = 1.2;
      ctx.beginPath();
      for (let v = Math.ceil(p.xr[0] / p.xMinor) * p.xMinor; v <= p.xr[1] + 1e-6; v += p.xMinor) {
        const px = xs.getPixelForValue(v);
        const len = p.xTicks.includes(v) ? 5 : 3;
        ctx.moveTo(px, ca.bottom);
        ctx.lineTo(px, ca.bottom + len);
      }
      for (let v = 0; v <= p.yMax + 1e-6; v += p.yMinor) {
        const py = ys.getPixelForValue(v);
        const len = p.yTicks.includes(v) ? 5 : 3;
        ctx.moveTo(ca.left, py);
        ctx.lineTo(ca.left - len, py);
      }
      ctx.stroke();

      // tick labels
      ctx.fillStyle = INK;
      ctx.font = `15px ${FONT}`;
      ctx.textAlign = 'center';
      ctx.textBaseline = 'top';
      p.xTicks.forEach(v => ctx.fillText(String(v), xs.getPixelForValue(v), ca.bottom + 6));
      ctx.textAlign = 'right';
      ctx.textBaseline = 'middle';
      p.yTicks.forEach(v => ctx.fillText(String(v), ca.left - 9, ys.getPixelForValue(v)));

      // axis titles
      ctx.font = `16.5px ${FONT}`;
      ctx.textAlign = 'center';
      ctx.fillText('m/z', p.xTitle[0] - ox, p.xTitle[1] - oy);
      ctx.save();
      ctx.translate(p.yTitle[0] - ox, p.yTitle[1] - oy);
      ctx.rotate(-Math.PI / 2);
      ctx.fillText('Relative Abundance', 0, 0);
      ctx.restore();

      // panel letter and acquisition title
      ctx.font = `bold 17px ${FONT}`;
      ctx.fillStyle = '#000';
      ctx.fillText(p.id, p.letter[0] - ox, p.letter[1] - oy);
      ctx.font = `bold 14px ${FONT}`;
      const tw = ctx.measureText(p.title).width;
      drawWide(ctx, p.title, p.titlePos[0] - ox, p.titlePos[1] - oy, ctx.font, p.titleW / tw, 'left', 'middle');

      // structure sketch
      const pen = makePen(ctx, ox, oy, p.atomSize);
      structures[p.id](pen);
      pen.flush();

      // peak annotations
      p.notes.forEach(n => {
        if (n.lead) {
          ctx.strokeStyle = '#6a6a6a';
          ctx.lineWidth = 0.9;
          ctx.beginPath();
          ctx.moveTo(xs.getPixelForValue(n.lead[0]), ys.getPixelForValue(n.lead[1]));
          ctx.lineTo(xs.getPixelForValue(n.lead[2]), ys.getPixelForValue(n.lead[3]));
          ctx.stroke();
        }
        if (n.red) drawRich(ctx, n.red, xs.getPixelForValue(n.rx), ys.getPixelForValue(n.ry), p.redSize);
        if (n.num) {
          ctx.fillStyle = INK;
          drawWide(ctx, n.num, xs.getPixelForValue(n.nx), ys.getPixelForValue(n.ny),
                   `${p.numSize}px ${FONT}`, 1.17, 'center', 'alphabetic');
        }
      });
      ctx.restore();
    }
  };
}

const page = document.getElementById('page');
panels.forEach(p => {
  const [cx, cy, cw, ch] = p.cell;
  const cv = document.createElement('canvas');
  cv.width = cw;
  cv.height = ch;
  cv.style.cssText = `position:absolute;left:${cx}px;top:${cy}px;width:${cw}px;height:${ch}px`;
  page.appendChild(cv);

  new Chart(cv, {
    type: 'bar',
    data: {
      datasets: [{
        data: p.mz.map((m, i) => ({ x: m, y: p.ab[i] })),
        backgroundColor: INK,
        barThickness: 1.5,
        borderWidth: 0
      }]
    },
    options: {
      responsive: false,
      animation: false,
      layout: {
        padding: {
          left: p.box[0] - cx,
          top: p.box[1] - cy,
          right: cx + cw - p.box[2],
          bottom: cy + ch - p.box[3]
        }
      },
      plugins: { legend: { display: false }, tooltip: { enabled: false } },
      scales: {
        x: { type: 'linear', display: false, min: p.xr[0], max: p.xr[1], offset: false },
        y: { type: 'linear', display: false, min: 0, max: p.yMax }
      }
    },
    plugins: [makeDecor(p)]
  });
});
</script>
</body>
</html>
